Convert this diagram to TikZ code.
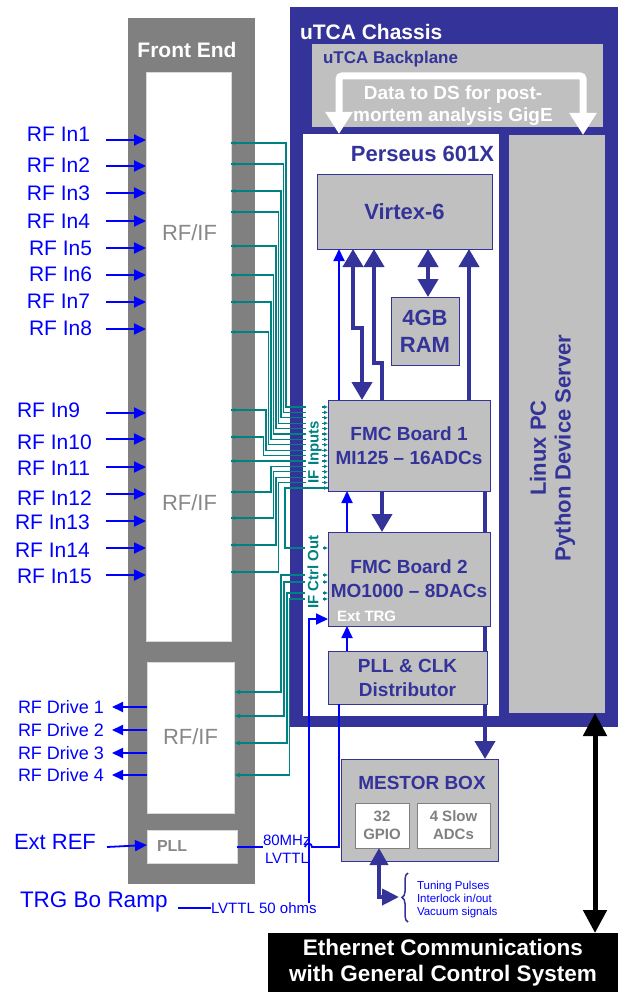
\documentclass[tikz,border=0pt]{standalone}
\usepackage{fontspec}
\setmainfont{Liberation Sans}
\usetikzlibrary{arrows.meta,decorations.pathreplacing}
\definecolor{dblue}{RGB}{51,51,153}
\definecolor{fegray}{RGB}{128,128,128}
\definecolor{boxgray}{RGB}{192,192,192}
\definecolor{tealc}{RGB}{0,130,130}
\definecolor{rfblue}{RGB}{0,0,255}
\definecolor{txtgray}{RGB}{136,136,136}
\newcommand{\fsz}[2]{\fontsize{#1}{#2}\selectfont}
\tikzset{
  plain/.style={inner sep=0pt, outer sep=0pt, anchor=north west},
  wbox/.style={plain, fill=white, draw=black!15, line width=0.6pt},
  gbox/.style={plain, fill=boxgray, draw=dblue, line width=1pt, text=dblue, font=\fsz{19}{24}\bfseries, align=center},
  lbl/.style={inner sep=0pt, outer sep=0pt},
  rfin/.style={lbl, anchor=west, text=rfblue, font=\fsz{21}{25}},
  rfdrv/.style={lbl, anchor=west, text=rfblue, font=\fsz{18}{21}},
  bline/.style={draw=rfblue, line width=1.8pt},
  dth/.style={draw=dblue, line width=4pt},
  tl/.style={draw=tealc, line width=1.3pt},
  dtri/.tip={Triangle[length=18pt,width=20pt]},
  btri/.tip={Triangle[length=12pt,width=11pt]},
  wtri/.tip={Triangle[length=22pt,width=26pt]},
  ktri/.tip={Triangle[length=23pt,width=23pt]},
  ttri/.tip={Latex[length=4pt,width=4pt]},
  tbig/.tip={Latex[length=6pt,width=5pt]},
}
\begin{document}
\begin{tikzpicture}[x=1pt,y=-1pt]
\useasboundingbox (0,0) rectangle (618,992);

% ---------------- Front end
\node[plain, fill=fegray, minimum width=127pt, minimum height=866pt] (fe) at (128,18) {};
\node[wbox, minimum width=85pt, minimum height=569pt] (rfif1) at (146,72) {};
\node[wbox, minimum width=87pt, minimum height=151pt] (rfif2) at (147,662) {};
\node[wbox, minimum width=90pt, minimum height=33pt] (pll) at (147,830) {};
\node[lbl, text=white, font=\fsz{21}{25}\bfseries] (fetitle) at (187,50) {Front End};
\node[lbl, text=txtgray, font=\fsz{22}{26}] (rfiflbl1) at (189.5,233) {RF/IF};
\node[lbl, text=txtgray, font=\fsz{22}{26}] (rfiflbl2) at (189.5,503) {RF/IF};
\node[lbl, text=txtgray, font=\fsz{22}{26}] (rfiflbl3) at (190.5,737) {RF/IF};
\node[lbl, anchor=west, text=txtgray, font=\fsz{16}{19}\bfseries] (plllbl) at (157,846) {PLL};

% ---------------- uTCA chassis
\node[plain, fill=dblue, minimum width=328pt, minimum height=720pt] (chassis) at (290,7) {};
\node[plain, fill=boxgray, minimum width=291pt, minimum height=83pt] (bp) at (312,44) {};
\node[plain, fill=white, minimum width=196pt, minimum height=582pt] (pers) at (303,134) {};
\node[plain, fill=boxgray, minimum width=96pt, minimum height=578pt] (linux) at (509,135) {};
\node[lbl, anchor=west, text=white, font=\fsz{21}{25}\bfseries] (chtitle) at (300,32) {uTCA Chassis};
\node[lbl, anchor=west, text=dblue, font=\fsz{17}{20}\bfseries] (bptitle) at (323,59) {uTCA Backplane};
\node[lbl, anchor=east, text=dblue, font=\fsz{22}{26}\bfseries] (perstitle) at (494,154) {Perseus 601X};
\node[lbl, rotate=90, text=dblue, font=\fsz{22}{26}\bfseries] (linux1) at (538,448) {Linux PC};
\node[lbl, rotate=90, text=dblue, font=\fsz{22}{26}\bfseries] (linux2) at (565,448) {Python Device Server};

% white GigE arrow
\draw[draw=white, line width=7pt, rounded corners=3pt, wtri-wtri] (pers.north -| 339,0) -- (339,76) -- (583,76) -- (linux.north -| 583,0);
\node[lbl, text=white, font=\fsz{19}{22}\bfseries, align=center] (gige) at (453,106) {Data to DS for post-\\mortem analysis GigE};

% ---------------- boxes in Perseus
\node[gbox, font=\fsz{22}{26}\bfseries, minimum width=175pt, minimum height=74pt] (virtex) at (317,175) {Virtex-6};
\node[gbox, font=\fsz{22}{27}\bfseries, minimum width=68pt, minimum height=68pt] (ram) at (391,297) {4GB\\RAM};
\node[gbox, minimum width=162pt, minimum height=91pt] (fmc1) at (328,400) {FMC Board 1\\MI125 -- 16ADCs};
\node[gbox, minimum width=157pt, minimum height=102pt] (mestor) at (341,759) {};
\draw[dth, -dtri] (fmc1.south -| 485,0) -- (mestor.north -| 485,0);
\node[gbox, minimum width=162pt, minimum height=94pt] (fmc2) at (328,532) {FMC Board 2\\MO1000 -- 8DACs};
\node[gbox, minimum width=159pt, minimum height=53pt] (pllclk) at (328,651) {PLL \& CLK\\Distributor};
\node[lbl, anchor=west, text=white, font=\fsz{15}{18}\bfseries] (exttrg) at (337,616) {Ext TRG};

\node[lbl, text=dblue, font=\fsz{19}{22}\bfseries] (mestortitle) at (422,783) {MESTOR BOX};
\node[plain, fill=white, draw=fegray, line width=0.8pt, minimum width=54pt, minimum height=45pt, text=fegray, font=\fsz{15}{18}\bfseries, align=center] (gpio) at (355,803) {32\\GPIO};
\node[plain, fill=white, draw=fegray, line width=0.8pt, minimum width=73pt, minimum height=45pt, text=fegray, font=\fsz{15}{18}\bfseries, align=center] (sadc) at (417,803) {4 Slow\\ADCs};

\node[plain, fill=black, minimum width=350pt, minimum height=59pt, text=white, font=\fsz{22.5}{26}\bfseries, align=center] (eth) at (268,933) {Ethernet Communications\\with General Control System};

% ---------------- arrows inside Perseus
\draw[bline, -btri] (fmc1.north -| 339,0) -- (virtex.south -| 339,0);
\draw[dth, dtri-dtri] (virtex.south -| 353,0) -- (353,328) -- (362,328) -- (fmc1.north -| 362,0);
\draw[dth, -dtri] (fmc1.north -| 382,0) -- (382,363) -- (374,363) -- (virtex.south -| 374,0);
\draw[dth, dtri-dtri] (virtex.south -| 428,0) -- (ram.north -| 428,0);
\draw[dth, -dtri] (fmc1.north -| 469,0) -- (virtex.south -| 469,0);
\draw[dth, -dtri] (fmc1.south -| 382,0) -- (fmc2.north -| 382,0);
\draw[bline, -btri] (fmc2.north -| 347,0) -- (fmc1.south -| 347,0);
\draw[bline, -btri] (pllclk.north -| 347,0) -- (fmc2.south -| 347,0);

% Linux <-> Ethernet
\draw[draw=black, line width=5pt, ktri-ktri] (linux.south -| 595,0) -- (eth.north -| 595,0);

% GPIO signals
\draw[dth, {Triangle[length=17pt,width=18pt]}-{Triangle[length=17pt,width=16pt]}] (gpio.south -| 379,0) -- (379,897) -- (399,897);
\draw[draw=dblue, line width=1.5pt, decorate, decoration={brace, amplitude=6pt}] (408,922) -- (408,873);
\node[lbl, anchor=west, align=left, text=rfblue, font=\fsz{11.5}{13}] (tuning) at (417,900) {Tuning Pulses\\Interlock in/out\\Vacuum signals};

% ---------------- RF inputs
\foreach \n/\x/\ty/\ay in {1/27/134.5/140, 2/27/165.5/166, 3/27/193/193, 4/27/221/221, 5/29/248/248, 6/29/274/275, 7/27/301/302, 8/29/328/329}{
  \node[rfin] (rfin\n) at (\x,\ty) {RF In\n};
  \draw[bline, -btri] (106,\ay) -- (rfif1.west |- 0,\ay);
}
\foreach \n/\x/\ty/\ay in {9/17/410.5/413, 10/17/442/439, 11/17/468.5/467, 12/17/498/494, 13/15/522/521, 14/15/550/548, 15/17/576/575}{
  \node[rfin] (rfin\n) at (\x,\ty) {RF In\n};
  \draw[bline, -btri] (106,\ay) -- (rfif1.west |- 0,\ay);
}
% RF drives
\foreach \n/\y in {1/707, 2/730, 3/753, 4/775}{
  \node[rfdrv] (rfdrv\n) at (18,\y) {RF Drive \n};
  \draw[bline, -{Triangle[length=11pt,width=10pt]}] (rfif2.west |- 0,\y) -- (112,\y);
}
% Ext REF / TRG
\node[lbl, anchor=west, text=rfblue, font=\fsz{22}{26}] (extref) at (14,842) {Ext REF};
\draw[bline, -btri] (107,847) -- (pll.west |- 0,845);
\node[lbl, anchor=west, text=rfblue, font=\fsz{22.5}{26}] (trg) at (20,902) {TRG Bo Ramp};
\node[lbl, anchor=west, text=rfblue, font=\fsz{15}{18}] (lv50) at (211,908) {LVTTL 50 ohms};
\draw[bline] (178,908) -- (lv50.west);
\draw[bline, -btri] (lv50.north -| 309,0) -- (309,619) -- (fmc2.west |- 0,619);
\node[lbl, anchor=west, text=rfblue, font=\fsz{15}{18}] (mhz) at (263,840) {80MHz};
\node[lbl, anchor=west, text=rfblue, font=\fsz{15}{18}] (lvttl) at (265,858) {LVTTL};
\draw[bline] (pll.east |- 0,847) -- (263,847);
\draw[bline] (305,847) arc[start angle=180, end angle=360, radius=3.5] -- (339,847) -- (pllclk.south -| 339,0);

% ---------------- IF lines (teal)
\foreach \s/\v/\d in {143/286/407, 164/283.5/412.4, 191/281/417.8, 212/278.5/423.2, 246/276/428.6, 275/273.5/434, 302/271/439.4, 332/268.5/444.8, 410/266/450.2, 437/263.5/455.6, 492/271/466.4, 518/273.5/471.8, 545/276/477.2, 572/278.5/482.6}{
  \draw[tl] (rfif1.east |- 0,\s) -- (\v,\s) -- (\v,\d) -- (306,\d);
}
\draw[tl] (rfif1.east |- 0,461) -- (306,461);
\foreach \s in {143,164,191,212,246,275,302,332,410,437,461,492,518,545,572}{
  \draw[tl, -ttri] (236,\s) -- (rfif1.east |- 0,\s);
}
\foreach \y in {407,412.4,417.8,423.2,428.6,434,439.4,444.8,450.2,455.6,461,466.4,471.8,477.2,482.6,488}{
  \draw[tl, -ttri] (322,\y) -- (fmc1.west |- 0,\y);
}
\draw[tl] (fmc1.west |- 0,488) -- (285,488) -- (285,548) -- (305,548);
\foreach \s/\v/\d in {575/281/692, 582/284/716, 593/287/743, 599/289.5/775}{
  \draw[tl, -tbig] (305,\s) -- (\v,\s) -- (\v,\d) -- (rfif2.east |- 0,\d);
}
\foreach \y in {548,575,582,593,599}{
  \draw[tl, -ttri] (323,\y) -- (fmc2.west |- 0,\y);
}
\node[lbl, rotate=90, text=tealc, font=\fsz{15}{18}\bfseries] (ifin) at (315,452) {IF Inputs};
\node[lbl, rotate=90, text=tealc, font=\fsz{15}{18}\bfseries] (ifctrl) at (313,572) {IF Ctrl Out};
\end{tikzpicture}
\end{document}
